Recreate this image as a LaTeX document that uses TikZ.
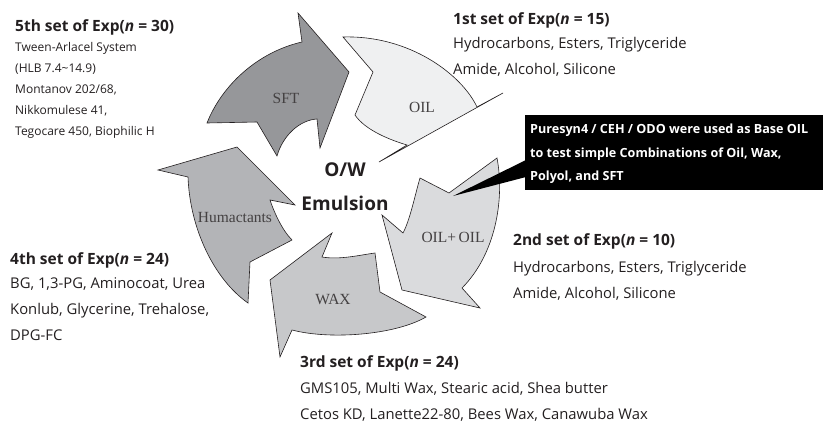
\documentclass[tikz,border=0pt]{standalone}
\usepackage{fontspec}
\setmainfont{Open Sans}
\newfontfamily\seriffont{Liberation Serif}
\usetikzlibrary{positioning}
\definecolor{SftGray}{HTML}{96979A}
\definecolor{OilGray}{HTML}{EFF0F1}
\definecolor{MixGray}{HTML}{DADBDD}
\definecolor{WaxGray}{HTML}{C7C8CA}
\definecolor{HumGray}{HTML}{B3B4B7}
\definecolor{InkDark}{HTML}{231F20}

\begin{document}
\begin{tikzpicture}[x=1pt, y=-1pt,
    blade/.style={draw=InkDark, line width=0.6pt, line join=miter},
    tag/.style={font=\seriffont\fontsize{15.5}{15.5}\selectfont, InkDark!85},
    hub/.style={font=\fontsize{19}{19}\selectfont\bfseries, InkDark},
    head/.style={font=\fontsize{15.5}{18}\selectfont\bfseries, anchor=base west, inner sep=0pt, InkDark},
    body/.style={font=\fontsize{14.8}{26}\selectfont, align=left, anchor=north west, inner sep=0pt, InkDark},
    small/.style={body, font=\fontsize{12}{21}\selectfont},
    note/.style={font=\fontsize{12.6}{23.5}\selectfont\bfseries, align=left, anchor=north west, inner sep=0pt, white}
]
\useasboundingbox (0,0) rectangle (823,423);

% Arrows
\draw[blade, fill=SftGray] (298,13) -- (349,72) -- (320,148) -- (317,119)
    .. controls (300,120) and (283,135) .. (277,156) -- (257,122) -- (207,123)
    .. controls (222,85) and (258,52) .. (302,42) -- cycle;
\draw[blade, fill=OilGray] (343,37) -- (373,72) -- (355,115)
    .. controls (365,130) and (390,140) .. (407,145) -- (379,162) -- (503,93) -- (477,107)
    .. controls (462,75) and (410,35) .. (343,37) -- cycle;
\draw[blade, fill=MixGray] (497,158) .. controls (505,200) and (495,255) .. (462,288)
    -- (480,308) -- (402,290) -- (382,215) -- (403,233)
    .. controls (410,220) and (415,195) .. (420,178) -- (449,193) -- cycle;
\draw[blade, fill=WaxGray] (270,280) -- (332,233) -- (322,257)
    .. controls (340,260) and (360,255) .. (375,253) -- (380,292) -- (426,317)
    .. controls (395,335) and (330,340) .. (292,330) -- (280,357) -- cycle;
\draw[blade, fill=HumGray] (237,147) -- (295,205) -- (270,200)
    .. controls (274,212) and (282,230) .. (292,240) -- (250,262) -- (248,303)
    .. controls (215,280) and (190,230) .. (188,177) -- (158,170) -- cycle;

% Arrow labels
\node[tag] (sft) at (286,98) {SFT};
\node[tag] (oil) at (422,107) {OIL};
\node[tag] (mix) at (453,237) {OIL+\,OIL};
\node[tag] (wax) at (333,299) {WAX};
\node[tag] (hum) at (235,217) {Humactants};

% Centre
\node[hub] (ow) at (345,170) {O/W};
\node[hub] (emul) at (345,203) {Emulsion};

% Callout
\fill[black] (525,115) rectangle (823,190);
\coordinate (pin) at (453,196);
\fill[black] (526,160) -- (pin) -- (526,177) -- cycle;
\node[note] (callout) at (530,124) {Puresyn4 / CEH / ODO were used as Base OIL\\to test simple Combinations of Oil, Wax,\\Polyol, and SFT};

% Sets of experiments
\node[head] (set1) at (453,24) {1st set of Exp(\textit{n} = 15)};
\node[body] (list1) at (453,37) {Hydrocarbons, Esters, Triglyceride\\Amide, Alcohol, Silicone};

\node[head] (set2) at (513,245) {2nd set of Exp(\textit{n} = 10)};
\node[body] (list2) at (513,261) {Hydrocarbons, Esters, Triglyceride\\Amide, Alcohol, Silicone};

\node[head] (set3) at (300,367) {3rd set of Exp(\textit{n} = 24)};
\node[body] (list3) at (300,382) {GMS105, Multi Wax, Stearic acid, Shea butter\\Cetos KD, Lanette22-80, Bees Wax, Canawuba Wax};

\node[head] (set4) at (10,264) {4th set of Exp(\textit{n} = 24)};
\node[body] (list4) at (10,277) {BG, 1,3-PG, Aminocoat, Urea\\Konlub, Glycerine, Trehalose,\\DPG-FC};

\node[head] (set5) at (15,31) {5th set of Exp(\textit{n} = 30)};
\node[small] (list5) at (15,42) {Tween-Arlacel System\\(HLB 7.4\textasciitilde14.9)\\Montanov 202/68,\\Nikkomulese 41,\\Tegocare 450, Biophilic H};
\end{tikzpicture}
\end{document}
